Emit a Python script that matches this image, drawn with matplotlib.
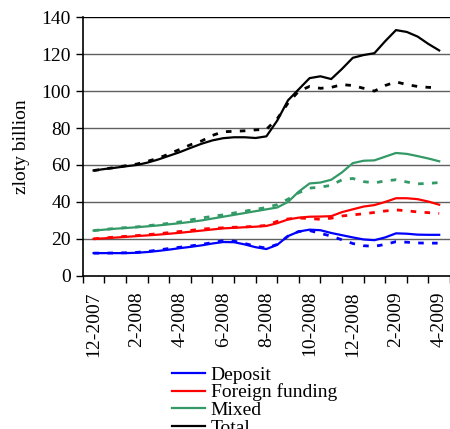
import matplotlib
matplotlib.use("Agg")
import matplotlib.pyplot as plt
import numpy as np

plt.rcParams['font.family'] = ['Liberation Serif', 'DejaVu Serif']

# half-month steps from 12-2007 to 4-2009 (category index 0..16)
months = ['12-2007', '1-2008', '2-2008', '3-2008', '4-2008', '5-2008', '6-2008',
          '7-2008', '8-2008', '9-2008', '10-2008', '11-2008', '12-2008',
          '1-2009', '2-2009', '3-2009', '4-2009']
step = np.arange(33) / 2.0

deposit = [12.3, 12.3, 12.3, 12.3, 12.5, 12.9, 13.5, 14.2, 15.0, 15.7, 16.5,
           17.5, 18.3, 18.2, 17.0, 15.5, 14.5, 16.8, 21.5, 24.0, 25.0, 24.7,
           23.2, 22.0, 20.8, 19.7, 19.3, 20.8, 23.0, 22.8, 22.3, 22.2, 22.2]
deposit_d = [12.3, 12.3, 12.4, 12.5, 12.7, 13.2, 14.0, 14.8, 15.5, 16.2, 17.0,
             18.0, 19.0, 18.8, 17.5, 16.0, 15.0, 17.0, 21.5, 24.0, 24.5, 23.0,
             21.5, 19.5, 17.5, 16.3, 16.0, 17.0, 18.5, 18.2, 17.8, 17.7, 17.7]
foreign = [20.0, 20.3, 20.7, 21.1, 21.5, 21.9, 22.3, 22.8, 23.3, 23.9, 24.5,
           25.1, 25.7, 26.0, 26.3, 26.6, 27.0, 28.5, 30.5, 31.5, 32.0, 32.1,
           32.3, 34.5, 36.0, 37.5, 38.3, 40.0, 42.0, 42.0, 41.5, 40.2, 38.5]
foreign_d = [20.0, 20.5, 21.0, 21.4, 21.8, 22.3, 22.8, 23.4, 24.0, 24.6, 25.3,
             25.7, 26.0, 26.3, 26.5, 26.8, 27.3, 29.5, 30.8, 31.3, 31.0, 30.6,
             31.2, 32.4, 33.0, 33.6, 34.3, 35.1, 35.7, 35.2, 34.6, 34.2, 33.8]
mixed = [24.5, 25.0, 25.5, 25.9, 26.3, 26.8, 27.3, 27.9, 28.5, 29.2, 30.0,
         31.0, 32.0, 33.0, 34.0, 35.0, 36.0, 37.0, 40.0, 45.6, 50.0, 50.5,
         52.0, 56.0, 61.0, 62.3, 62.5, 64.5, 66.5, 66.0, 64.8, 63.5, 62.0]
mixed_d = [24.5, 25.1, 25.7, 26.1, 26.5, 27.1, 27.8, 28.4, 29.2, 30.3, 31.3,
           32.2, 33.0, 34.0, 35.0, 36.0, 37.0, 38.5, 41.5, 45.0, 47.5, 48.0,
           49.0, 52.0, 52.7, 51.0, 50.3, 51.4, 52.0, 50.8, 49.8, 50.0, 50.5]
total = [57.0, 57.8, 58.5, 59.3, 60.0, 61.3, 63.0, 65.0, 67.0, 69.3, 71.5,
         73.3, 74.5, 75.0, 75.0, 74.6, 75.5, 84.0, 95.0, 101.0, 107.0, 108.0,
         106.5, 112.0, 118.0, 119.5, 120.5, 127.0, 133.0, 132.0, 129.5, 125.5, 122.0]
total_d = [57.0, 57.8, 58.7, 59.6, 60.5, 62.0, 63.7, 66.0, 68.5, 71.0, 73.0,
           76.0, 78.0, 78.2, 78.5, 79.0, 79.3, 85.0, 93.5, 100.0, 102.5, 101.5,
           102.0, 103.5, 103.0, 101.5, 100.0, 103.0, 105.0, 103.5, 102.5, 102.0, 102.0]

series = [
    ('Deposit', deposit, deposit_d, '#0000ff'),
    ('Foreign funding', foreign, foreign_d, '#ff0000'),
    ('Mixed', mixed, mixed_d, '#339966'),
    ('Total', total, total_d, '#000000'),
]

fig = plt.figure(figsize=(4.5, 4.29), dpi=100)
ax = fig.add_axes([0.184, 0.357, 0.816, 0.603])

for y in range(20, 141, 20):
    ax.axhline(y, color='#000000' if y == 140 else '#606060', lw=1, zorder=1)

handles = []
for name, solid, dashed, col in series:
    h, = ax.plot(step, solid, color=col, lw=1.6, label=name, zorder=3)
    ax.plot(step, dashed, color=col, lw=2, linestyle=(0, (2, 3)), zorder=3)
    handles.append(h)

ax.set_xlim(-0.5, 16.5)
ax.set_ylim(0, 140)
ax.set_yticks(range(0, 141, 20))
ax.tick_params(axis='y', labelsize=14, length=5, direction='out', width=1)

# tick marks on month boundaries, labels every second month
ax.set_xticks(np.arange(-0.5, 17, 1))
ax.set_xticklabels([])
ax.tick_params(axis='x', which='major', length=5, direction='out', width=1)
ax.set_xticks(np.arange(0, 17, 2), minor=True)
ax.set_xticklabels(months[::2], minor=True, rotation=90, fontsize=14)
ax.tick_params(axis='x', which='minor', length=0, pad=11)

for side in ['top', 'right']:
    ax.spines[side].set_visible(False)
ax.spines['left'].set_linewidth(1.2)
ax.spines['bottom'].set_linewidth(1.2)

ax.set_ylabel('zloty billion', fontsize=14, labelpad=8)

fig.legend(handles=handles, loc='upper left', bbox_to_anchor=(0.382, 0.147),
           frameon=False, fontsize=14, handlelength=1.7, handletextpad=0.3,
           labelspacing=0.0, borderaxespad=0, borderpad=0)

fig.savefig('out.png', dpi=100)
